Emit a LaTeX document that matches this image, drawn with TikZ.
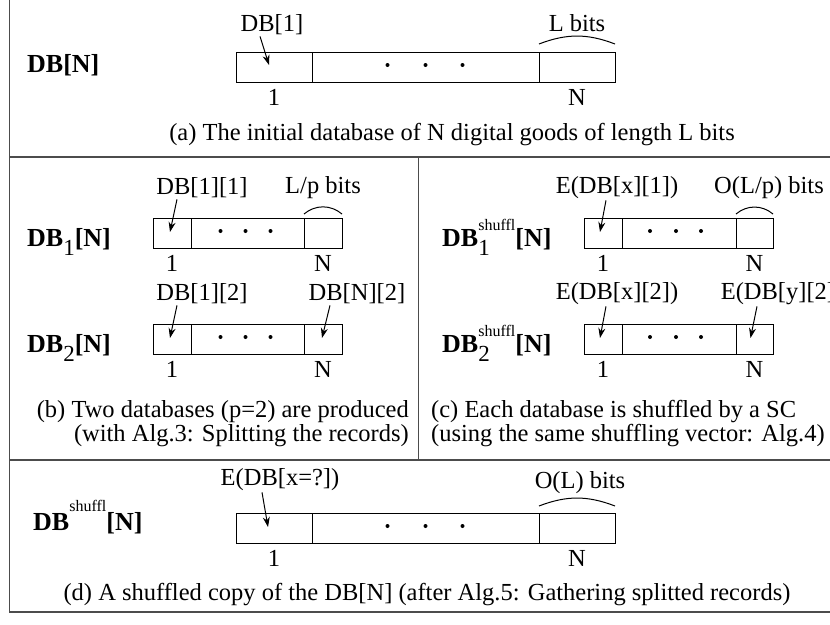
\documentclass[tikz,border=0pt]{standalone}
\usepackage{fontspec}
\setmainfont{Liberation Serif}
\usetikzlibrary{positioning,arrows.meta}

% record names: bold DB with sub/superscripts
\newcommand{\subidx}[1]{\raisebox{-9pt}{\mdseries\fontsize{23}{23}\selectfont #1}}
\newcommand{\supshuf}[1]{\raisebox{#1}{\mdseries\fontsize{16}{16}\selectfont shuffl}}
\newcommand{\dbidx}[1]{\textbf{DB}\subidx{#1}\textbf{[N]}}
\newcommand{\dbshuf}[1]{\textbf{DB}\rlap{\subidx{#1}}\supshuf{16pt}\textbf{[N]}}

\begin{document}
\begin{tikzpicture}[x=1pt, y=-1pt,
    cell/.style={draw, line width=1pt, minimum height=30pt, inner sep=0pt, outer sep=0pt},
    lbl/.style={font=\fontsize{24.5}{24}\selectfont, inner sep=1pt},
    dbname/.style={font=\fontsize{26}{28}\selectfont\bfseries, anchor=base west, inner sep=0pt},
    ptr/.style={-{Stealth[length=10pt,width=7pt]}, line width=1pt},
    span/.style={line width=1pt},
    frame/.style={line width=1.6pt, draw=black!70}]

  \clip (0,0) rectangle (830,624);
  \fill[white] (0,0) rectangle (830,624);

  % outer frame and panel dividers
  \draw[frame] (9.5,-10) rectangle (845,612);
  \draw[frame] (9.5,157) -- (845,157);
  \draw[frame] (9.5,460) -- (845,460);
  \draw[frame] (418.5,157) -- (418.5,460);

  % (a) initial database
  \node[dbname] (na) at (27,72) {DB[N]};
  \node[cell, minimum width=76pt] (a1) at (274,67) {};
  \node[cell, minimum width=227pt, right=0pt of a1] (a2) {};
  \node[cell, minimum width=76pt, right=0pt of a2] (a3) {};
  \foreach \d in {-38,0,37} \fill ([xshift=\d pt,yshift=2pt]a2.center) circle (2pt);
  \node[lbl] (la1) at (272,25) {DB[1]};
  \node[lbl] (la3) at (577,23) {L bits};
  \node[lbl, below=6pt of a1] (ia1) {1};
  \node[lbl, below=6pt of a3] (ia3) {N};
  \draw[ptr] ([xshift=-12pt]la1.south) -- ([xshift=-5pt,yshift=2pt]a1.center);
  \draw[span] ([yshift=8pt]a3.north west) to[bend left=21] ([yshift=8pt]a3.north east);
  \node[lbl] (capa) at (452,135) {(a) The initial database of N digital goods of length L bits};

  % (b) split databases
  \node[dbname] (nb1) at (27,246.5) {\dbidx{1}};
  \node[cell, minimum width=38pt] (b11) at (172,233) {};
  \node[cell, minimum width=113pt, right=0pt of b11] (b12) {};
  \node[cell, minimum width=38pt, right=0pt of b12] (b13) {};
  \foreach \d in {-27,-2,23} \fill ([xshift=\d pt,yshift=2pt]b12.center) circle (2pt);
  \node[lbl] (lb11) at (202,188) {DB[1][1]};
  \node[lbl] (lb13) at (323,188) {L/p bits};
  \node[lbl, below=6pt of b11] (ib11) {1};
  \node[lbl, below=6pt of b13] (ib13) {N};
  \draw[ptr] ([xshift=-25pt]lb11.south) -- ([xshift=-2pt,yshift=1pt]b11.center);
  \draw[span] ([yshift=4pt]b13.north west) to[bend left=40] ([yshift=4pt]b13.north east);

  \node[dbname] (nb2) at (27,352) {\dbidx{2}};
  \node[cell, minimum width=38pt] (b21) at (172,339) {};
  \node[cell, minimum width=113pt, right=0pt of b21] (b22) {};
  \node[cell, minimum width=38pt, right=0pt of b22] (b23) {};
  \foreach \d in {-27,-2,23} \fill ([xshift=\d pt,yshift=2pt]b22.center) circle (2pt);
  \node[lbl] (lb21) at (202,294) {DB[1][2]};
  \node[lbl] (lb23) at (357,294) {DB[N][2]};
  \node[lbl, below=6pt of b21] (ib21) {1};
  \node[lbl, below=6pt of b23] (ib23) {N};
  \draw[ptr] ([xshift=-25pt]lb21.south) -- ([xshift=-2pt,yshift=1pt]b21.center);
  \draw[ptr] ([xshift=-27pt]lb23.south) -- ([xshift=-1pt,yshift=1pt]b23.center);
  \node[lbl, align=right, anchor=east] (capb) at (410,423.5)
    {(b) Two databases (p=2) are produced\\(with Alg.3: Splitting the records)};

  % (c) shuffled databases
  \node[dbname] (nc1) at (442,246.5) {\dbshuf{1}};
  \node[cell, minimum width=38pt] (c11) at (603,233) {};
  \node[cell, minimum width=114pt, right=0pt of c11] (c12) {};
  \node[cell, minimum width=37pt, right=0pt of c12] (c13) {};
  \foreach \d in {-29,-3,22} \fill ([xshift=\d pt,yshift=2pt]c12.center) circle (2pt);
  \node[lbl] (lc11) at (617,188) {E(DB[x][1])};
  \node[lbl] (lc13) at (769,188) {O(L/p) bits};
  \node[lbl, below=6pt of c11] (ic11) {1};
  \node[lbl, below=6pt of c13] (ic13) {N};
  \draw[ptr] ([xshift=-11pt]lc11.south) -- ([xshift=-3pt,yshift=1pt]c11.center);
  \draw[span] ([yshift=4pt]c13.north west) to[bend left=40] ([yshift=4pt]c13.north east);

  \node[dbname] (nc2) at (442,352) {\dbshuf{2}};
  \node[cell, minimum width=38pt] (c21) at (603,339) {};
  \node[cell, minimum width=114pt, right=0pt of c21] (c22) {};
  \node[cell, minimum width=37pt, right=0pt of c22] (c23) {};
  \foreach \d in {-29,-3,22} \fill ([xshift=\d pt,yshift=2pt]c22.center) circle (2pt);
  \node[lbl] (lc21) at (617,294) {E(DB[x][2])};
  \node[lbl] (lc23) at (782,294) {E(DB[y][2])};
  \node[lbl, below=6pt of c21] (ic21) {1};
  \node[lbl, below=6pt of c23] (ic23) {N};
  \draw[ptr] ([xshift=-11pt]lc21.south) -- ([xshift=-3pt,yshift=1pt]c21.center);
  \draw[ptr] ([xshift=-25pt]lc23.south) -- ([xshift=-4pt,yshift=1pt]c23.center);
  \node[lbl, align=left, anchor=west] (capc) at (430,423.5)
    {(c) Each database is shuffled by a SC\\(using the same shuffling vector: Alg.4)};

  % (d) gathered shuffled copy
  \node[dbname] (nd) at (33,530) {DB\supshuf{19pt}[N]};
  \node[cell, minimum width=76pt] (d1) at (274,528) {};
  \node[cell, minimum width=227pt, right=0pt of d1] (d2) {};
  \node[cell, minimum width=76pt, right=0pt of d2] (d3) {};
  \foreach \d in {-38,0,37} \fill ([xshift=\d pt,yshift=2pt]d2.center) circle (2pt);
  \node[lbl] (ld1) at (280,480) {E(DB[x=?])};
  \node[lbl] (ld3) at (580,483) {O(L) bits};
  \node[lbl, below=6pt of d1] (id1) {1};
  \node[lbl, below=6pt of d3] (id3) {N};
  \draw[ptr] ([xshift=-18pt]ld1.south) -- ([xshift=-6pt,yshift=1pt]d1.center);
  \draw[span] ([yshift=7pt]d3.north west) to[bend left=21] ([yshift=7pt]d3.north east);
  \node[lbl] (capd) at (427,595) {(d) A shuffled copy of the DB[N] (after Alg.5: Gathering splitted records)};
\end{tikzpicture}
\end{document}
